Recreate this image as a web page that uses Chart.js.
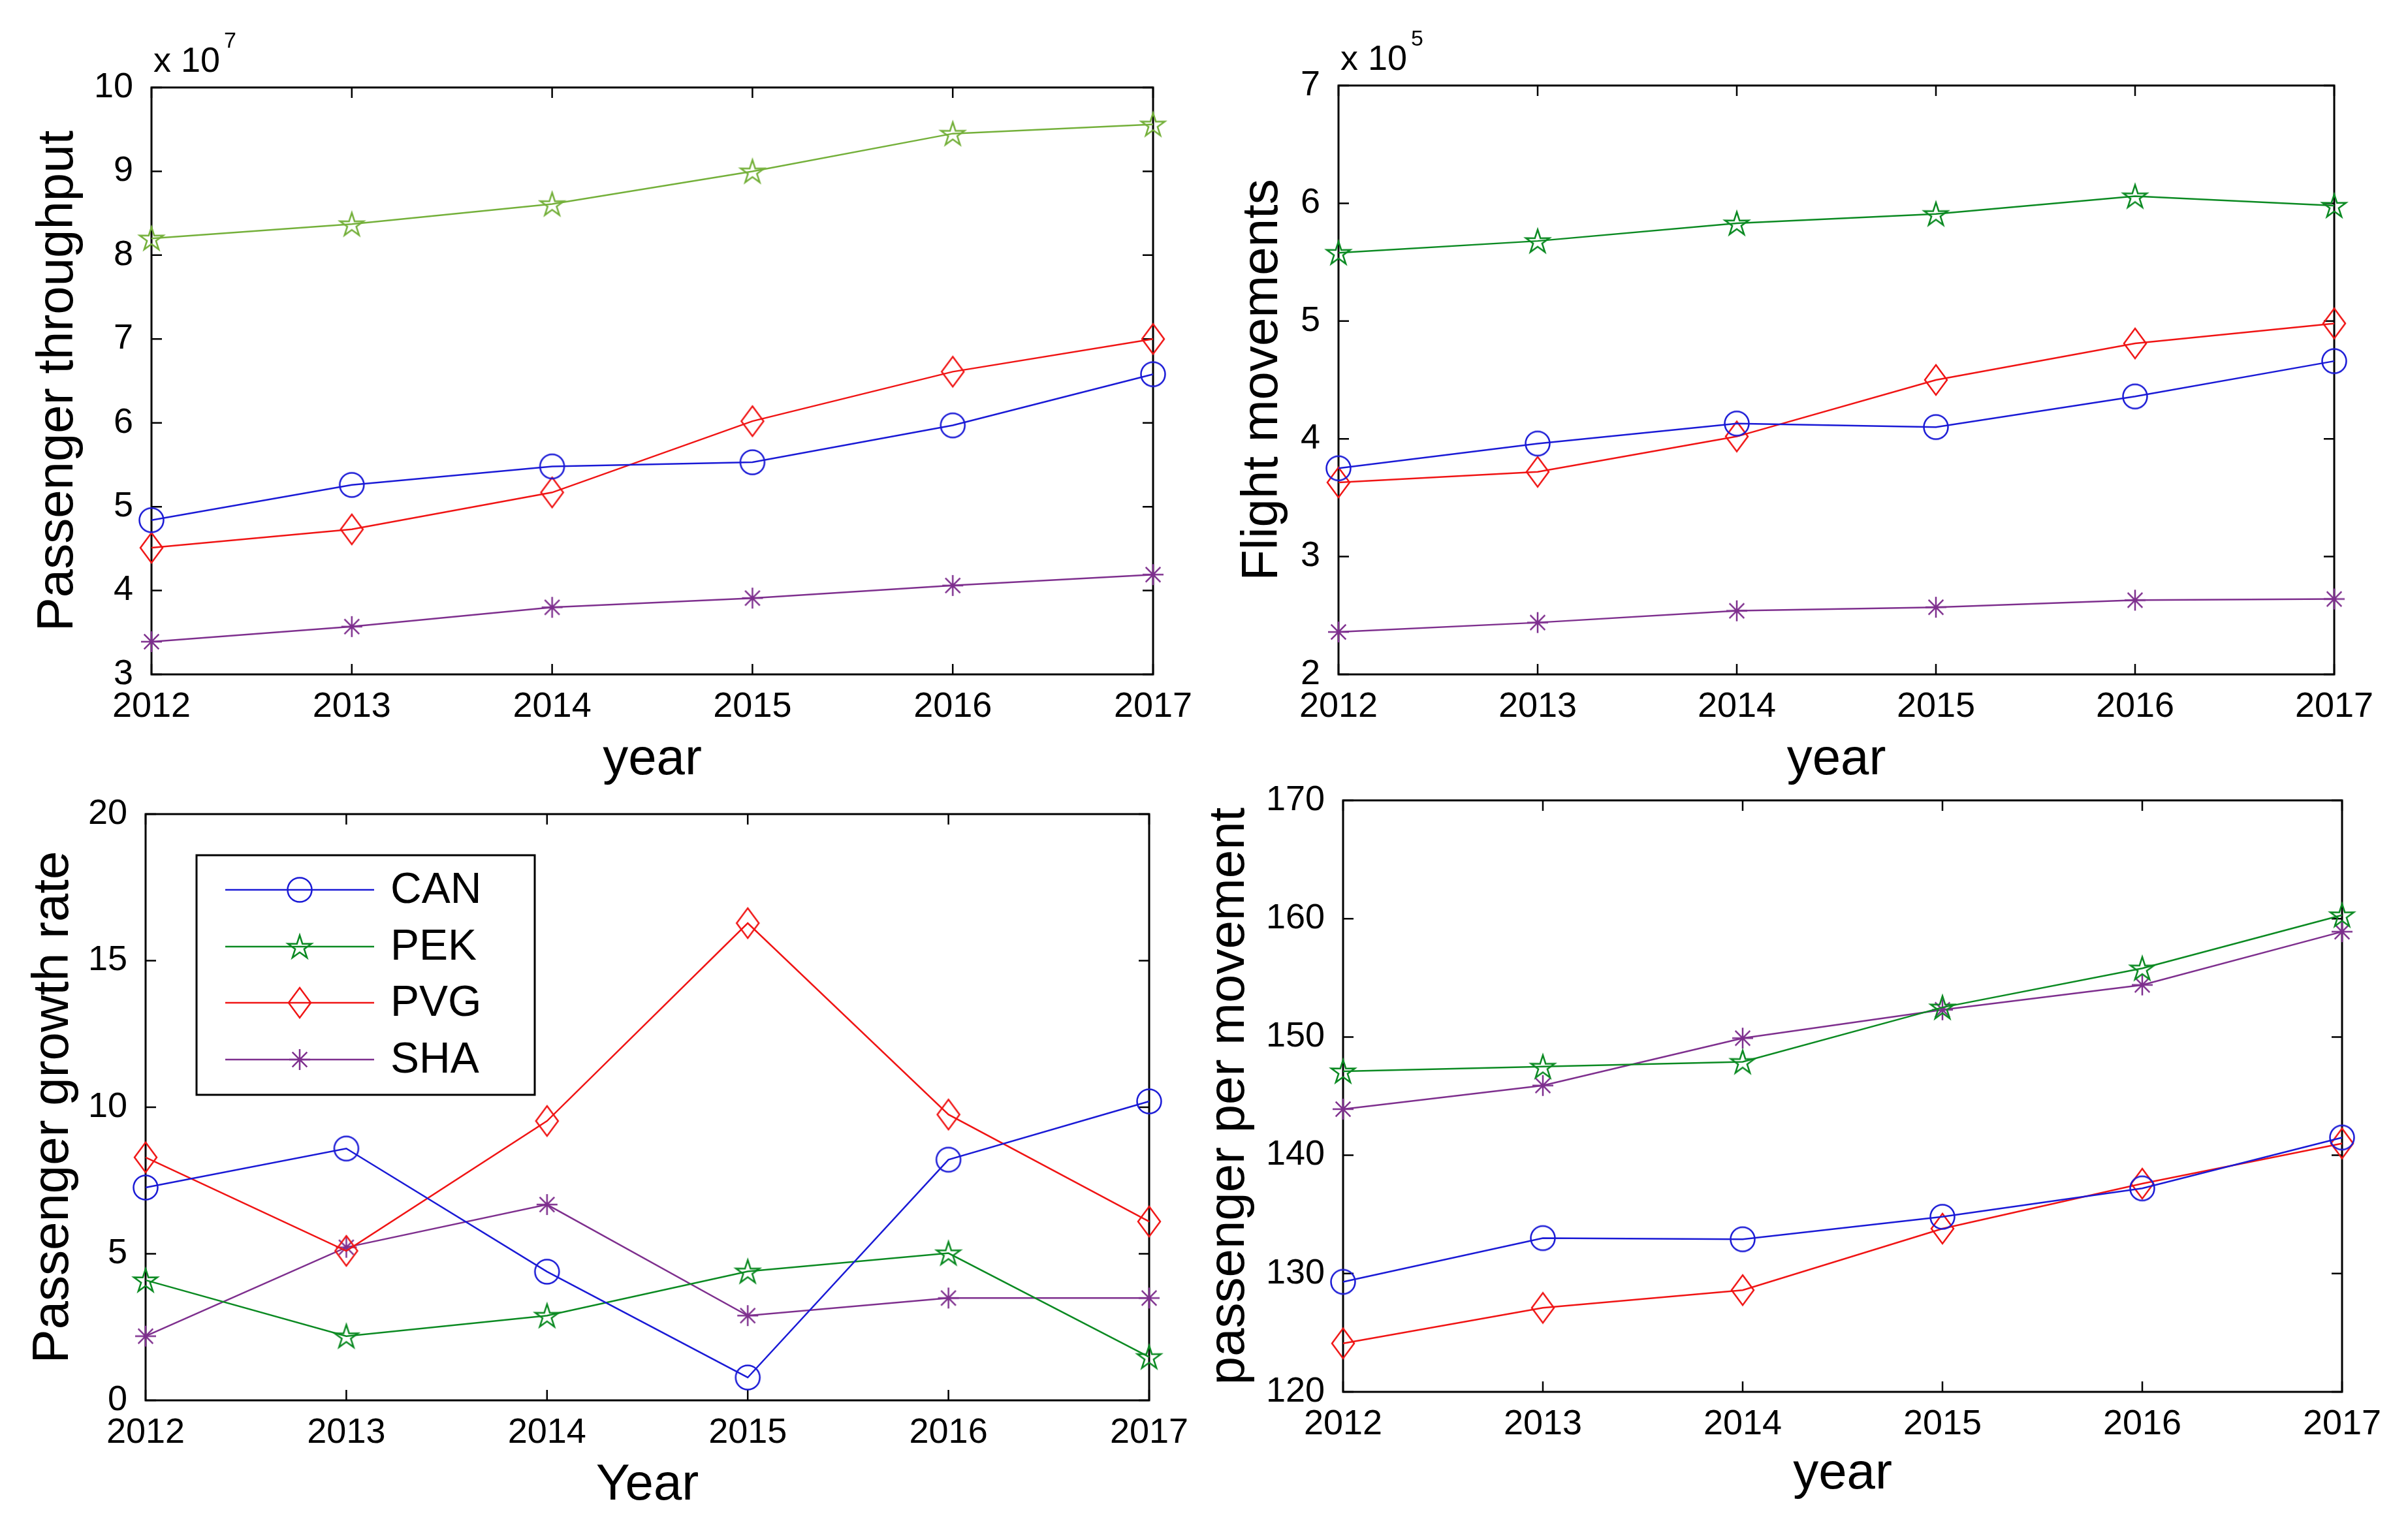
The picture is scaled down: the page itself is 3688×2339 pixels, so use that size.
<!DOCTYPE html>
<html>
<head>
<meta charset="utf-8">
<script src="https://cdn.jsdelivr.net/npm/chart.js@4/dist/chart.umd.min.js"></script>
<style>
  html, body { margin: 0; padding: 0; background: #fff; }
  #page { position: relative; width: 3688px; height: 2339px; background: #fff; overflow: hidden; }
  canvas { position: absolute; }
</style>
</head>
<body>
<div id="page">
  <canvas id="c1" width="1844" height="1215" style="left:0;top:0"></canvas>
  <canvas id="c2" width="1844" height="1215" style="left:1844px;top:0"></canvas>
  <canvas id="c3" width="1844" height="1189" style="left:0;top:1150px"></canvas>
  <canvas id="c4" width="1888" height="1189" style="left:1800px;top:1150px"></canvas>
</div>
<script>
// ==============================
// DATA
// ==============================
const years = ['2012', '2013', '2014', '2015', '2016', '2017'];
const airports = ['CAN', 'PEK', 'PVG', 'SHA'];

// passenger throughput (x 10^7)
const paxCAN = [4.84, 5.26, 5.48, 5.53, 5.97, 6.58];
const paxPEK = [8.20, 8.37, 8.61, 9.00, 9.45, 9.56];
const paxPVG = [4.51, 4.73, 5.17, 6.02, 6.61, 7.00];
const paxSHA = [3.39, 3.57, 3.80, 3.91, 4.06, 4.19];

// flight movements (x 10^5)
const movCAN = [3.75, 3.96, 4.13, 4.10, 4.36, 4.66];
const movPEK = [5.58, 5.68, 5.83, 5.91, 6.06, 5.98];
const movPVG = [3.63, 3.72, 4.02, 4.50, 4.81, 4.98];
const movSHA = [2.36, 2.44, 2.54, 2.57, 2.63, 2.64];

// passenger growth rate
const growCAN = [7.26, 8.59, 4.39, 0.78, 8.21, 10.2];
const growPEK = [4.10, 2.19, 2.89, 4.40, 5.02, 1.48];
const growPVG = [8.29, 5.10, 9.53, 16.28, 9.75, 6.10];
const growSHA = [2.19, 5.22, 6.68, 2.89, 3.49, 3.49];

// passenger per movement
const ppmCAN = [129.3, 133.0, 132.9, 134.8, 137.2, 141.5];
const ppmPEK = [147.1, 147.5, 147.9, 152.5, 155.8, 160.3];
const ppmPVG = [124.1, 127.1, 128.6, 133.8, 137.6, 141.0];
const ppmSHA = [143.9, 145.9, 149.9, 152.3, 154.4, 158.9];

// y axis ranges [min, max, step]
const paxTicks = [3, 10, 1];
const movTicks = [2, 7, 1];
const growTicks = [0, 20, 5];
const ppmTicks = [120, 170, 10];

// ==============================
// STYLE
// ==============================
const FONT = "'Liberation Sans', Arial, Helvetica, sans-serif";
const colCAN = '#1a1ad6';
const colPEK = '#0b8a22';
const colPEKlight = '#74b03a';
const colPVG = '#f01414';
const colSHA = '#7e2f8e';

// hollow MATLAB-like markers drawn on small canvases
function marker(kind, color) {
  const dims = { circle: [44, 44], star: [44, 44], diamond: [40, 52], asterisk: [38, 38] }[kind];
  const c = document.createElement('canvas');
  c.width = dims[0];
  c.height = dims[1];
  const g = c.getContext('2d');
  const cx = c.width / 2, cy = c.height / 2;
  g.strokeStyle = color;
  g.lineWidth = 2.5;
  g.beginPath();
  if (kind === 'circle') {
    g.arc(cx, cy, 18.5, 0, Math.PI * 2);
  } else if (kind === 'star') {
    for (let i = 0; i < 10; i++) {
      const r = i % 2 ? 7.2 : 19;
      const a = -Math.PI / 2 + i * Math.PI / 5;
      const px = cx + r * Math.cos(a), py = cy + 1.5 + r * Math.sin(a);
      i ? g.lineTo(px, py) : g.moveTo(px, py);
    }
    g.closePath();
  } else if (kind === 'diamond') {
    g.moveTo(cx, cy - 23);
    g.lineTo(cx + 17, cy);
    g.lineTo(cx, cy + 23);
    g.lineTo(cx - 17, cy);
    g.closePath();
  } else {
    for (let i = 0; i < 4; i++) {
      const a = i * Math.PI / 4;
      g.moveTo(cx + 16 * Math.cos(a), cy + 16 * Math.sin(a));
      g.lineTo(cx - 16 * Math.cos(a), cy - 16 * Math.sin(a));
    }
  }
  g.stroke();
  return c;
}

function series(label, data, color, kind) {
  return {
    label: label,
    data: data,
    borderColor: color,
    backgroundColor: color,
    borderWidth: 2.5,
    pointStyle: marker(kind, color),
    pointRadius: 10,
    tension: 0,
    clip: false
  };
}

// ==============================
// PLUGINS
// ==============================
// box round the axes with inward ticks on all four sides
const frame = {
  id: 'frame',
  beforeDatasetsDraw(chart) {
    const { ctx, chartArea: a, scales: { x, y } } = chart;
    ctx.save();
    ctx.strokeStyle = '#000';
    ctx.lineWidth = 3;
    ctx.strokeRect(a.left, a.top, a.right - a.left, a.bottom - a.top);
    ctx.lineWidth = 2.5;
    ctx.beginPath();
    x.ticks.forEach((t, i) => {
      const px = x.getPixelForTick(i);
      ctx.moveTo(px, a.bottom); ctx.lineTo(px, a.bottom - 16);
      ctx.moveTo(px, a.top); ctx.lineTo(px, a.top + 16);
    });
    y.ticks.forEach(t => {
      const py = y.getPixelForValue(t.value);
      ctx.moveTo(a.left, py); ctx.lineTo(a.left + 16, py);
      ctx.moveTo(a.right, py); ctx.lineTo(a.right - 16, py);
    });
    ctx.stroke();
    ctx.restore();
  }
};

// "x 10^n" multiplier above the y axis
const expo = {
  id: 'expo',
  afterDraw(chart, args, opts) {
    if (!opts || !opts.power) return;
    const { ctx, chartArea: a } = chart;
    ctx.save();
    ctx.fillStyle = '#000';
    ctx.textBaseline = 'alphabetic';
    ctx.textAlign = 'left';
    ctx.font = '54px ' + FONT;
    const base = 'x 10';
    ctx.fillText(base, a.left + 3, a.top - 24);
    const w = ctx.measureText(base).width;
    ctx.font = '34px ' + FONT;
    ctx.fillText(opts.power, a.left + 3 + w + 6, a.top - 61);
    ctx.restore();
  }
};

// legend box inside the growth-rate panel, placed from the plot's top-left corner
const boxLegend = {
  id: 'boxLegend',
  afterDraw(chart, args, opts) {
    if (!opts || !opts.show) return;
    const { ctx, chartArea: a } = chart;
    const ox = a.left, oy = a.top;
    const L = ox + 78, T = oy + 63, R = ox + 596, B = oy + 430;
    ctx.save();
    ctx.fillStyle = '#fff';
    ctx.fillRect(L, T, R - L, B - T);
    ctx.strokeStyle = '#000';
    ctx.lineWidth = 3;
    ctx.strokeRect(L, T, R - L, B - T);
    const rows = [116, 203, 289, 376];
    chart.data.datasets.forEach((ds, i) => {
      const yy = oy + rows[i];
      ctx.strokeStyle = ds.borderColor;
      ctx.lineWidth = 2.5;
      ctx.beginPath();
      ctx.moveTo(ox + 122, yy);
      ctx.lineTo(ox + 350, yy);
      ctx.stroke();
      const m = ds.pointStyle;
      ctx.drawImage(m, ox + 236 - m.width / 2, yy - m.height / 2);
      ctx.fillStyle = '#000';
      ctx.font = '66px ' + FONT;
      ctx.textBaseline = 'middle';
      ctx.textAlign = 'left';
      ctx.fillText(ds.label, ox + 375, yy + 2);
    });
    ctx.restore();
  }
};

// ==============================
// PANELS
// ==============================
function makePanel(id, p) {
  return new Chart(document.getElementById(id), {
    type: 'line',
    data: { labels: years, datasets: p.datasets },
    options: {
      responsive: false,
      devicePixelRatio: 1,
      animation: false,
      events: [],
      layout: { padding: { left: 0, top: p.padTop, right: p.padRight, bottom: 0 } },
      plugins: {
        legend: { display: false },
        tooltip: { enabled: false },
        expo: { power: p.power },
        boxLegend: { show: !!p.legend }
      },
      scales: {
        x: {
          type: 'category',
          offset: false,
          grid: { display: false },
          border: { display: false },
          ticks: { color: '#000', font: { family: FONT, size: 54 }, padding: 10, maxRotation: 0, autoSkip: false },
          title: { display: true, text: p.xTitle, color: '#000', font: { family: FONT, size: 78 }, padding: { bottom: p.xTitlePad } },
          afterFit: s => { s.height = p.xHeight; }
        },
        y: {
          min: p.ticks[0],
          max: p.ticks[1],
          grid: { display: false },
          border: { display: false },
          ticks: { stepSize: p.ticks[2], color: '#000', font: { family: FONT, size: 54 }, padding: 20 },
          title: { display: true, text: p.yTitle, color: '#000', font: { family: FONT, size: 78 }, padding: { top: p.yTitlePad } },
          afterFit: s => { s.width = p.yWidth; }
        }
      }
    },
    plugins: [frame, expo, boxLegend]
  });
}

makePanel('c1', {
  datasets: [
    series('CAN', paxCAN, colCAN, 'circle'),
    series('PEK', paxPEK, colPEKlight, 'star'),
    series('PVG', paxPVG, colPVG, 'diamond'),
    series('SHA', paxSHA, colSHA, 'asterisk')
  ],
  ticks: paxTicks, power: '7',
  yTitle: 'Passenger throughput', xTitle: 'year',
  padTop: 134, padRight: 78, yWidth: 232, xHeight: 182,
  yTitlePad: 43, xTitlePad: 4
});

makePanel('c2', {
  datasets: [
    series('CAN', movCAN, colCAN, 'circle'),
    series('PEK', movPEK, colPEK, 'star'),
    series('PVG', movPVG, colPVG, 'diamond'),
    series('SHA', movSHA, colSHA, 'asterisk')
  ],
  ticks: movTicks, power: '5',
  yTitle: 'Flight movements', xTitle: 'year',
  padTop: 131, padRight: 113, yWidth: 206, xHeight: 182,
  yTitlePad: 44, xTitlePad: 4
});

makePanel('c3', {
  datasets: [
    series('CAN', growCAN, colCAN, 'circle'),
    series('PEK', growPEK, colPEK, 'star'),
    series('PVG', growPVG, colPVG, 'diamond'),
    series('SHA', growSHA, colSHA, 'asterisk')
  ],
  ticks: growTicks, legend: true,
  yTitle: 'Passenger growth rate', xTitle: 'Year',
  padTop: 97, padRight: 84, yWidth: 223, xHeight: 194,
  yTitlePad: 36, xTitlePad: 17
});

makePanel('c4', {
  datasets: [
    series('CAN', ppmCAN, colCAN, 'circle'),
    series('PEK', ppmPEK, colPEK, 'star'),
    series('PVG', ppmPVG, colPVG, 'diamond'),
    series('SHA', ppmSHA, colSHA, 'asterisk')
  ],
  ticks: ppmTicks,
  yTitle: 'passenger per movement', xTitle: 'year',
  padTop: 76, padRight: 101, yWidth: 257, xHeight: 207,
  yTitlePad: 37, xTitlePad: 34
});
</script>
</body>
</html>
